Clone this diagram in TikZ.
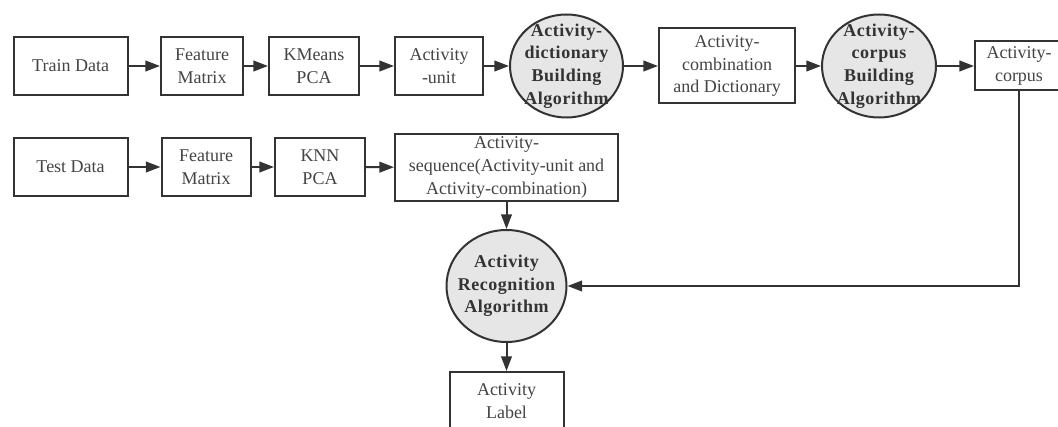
\documentclass[tikz,border=0pt]{standalone}
\usepackage{fontspec}
\setmainfont{Liberation Serif}
\newfontfamily\tnr{Liberation Serif}
\newfontfamily\tnrb[LetterSpace=3]{Liberation Serif Bold}
\usetikzlibrary{shapes.geometric,arrows.meta}
\definecolor{linec}{HTML}{333333}
\definecolor{textc}{HTML}{444444}
\definecolor{algofill}{HTML}{E6E6E6}
\def\pxu{0.75pt}
\tikzset{
  box/.style={draw=linec, line width=1.5pt, fill=white, text=textc, align=center,
    inner sep=0pt, font=\tnr\fontsize{13.5}{17}\selectfont},
  algo/.style={ellipse, draw=linec, fill=algofill, line width=1.5pt, inner sep=0pt},
  algotext/.style={align=center, inner sep=0pt, text=linec,
    font=\tnrb\fontsize{13.5}{17}\selectfont},
  arr/.style={draw=linec, line width=1.5pt, -{Triangle[length=11pt,width=8pt]}}
}
\begin{document}
\begin{tikzpicture}[x=0.75pt,y=-0.75pt]
\useasboundingbox (0,0) rectangle (1058,427);
\clip (0,0) rectangle (1058,427);
% row 1
\node[box, minimum width=114*\pxu, minimum height=58*\pxu] (train) at (70.6,66) {Train Data};
\node[box, minimum width=82*\pxu, minimum height=58*\pxu] (fm1) at (202,66) {Feature\\Matrix};
\node[box, minimum width=90*\pxu, minimum height=58*\pxu] (km) at (314,66) {KMeans\\PCA};
\node[box, minimum width=88*\pxu, minimum height=58*\pxu] (unit) at (439,66) {Activity\\-unit};
\node[algo, minimum width=113*\pxu, minimum height=103*\pxu,
  label={[algotext]center:Activity-\\dictionary\\Building\\Algorithm}] (c1) at (566.5,66) {};
\node[box, minimum width=136*\pxu, minimum height=75*\pxu] (comb) at (727,66) {Activity-\\combination\\and Dictionary};
\node[algo, minimum width=114*\pxu, minimum height=103*\pxu,
  label={[algotext]center:Activity-\\corpus\\Building\\Algorithm}] (c2) at (879,66) {};
\node[box, minimum width=88*\pxu, minimum height=49*\pxu] (corpus) at (1019,66) {Activity-\\corpus};
% row 2
\node[box, minimum width=114*\pxu, minimum height=58*\pxu] (test) at (70.6,167) {Test Data};
\node[box, minimum width=89*\pxu, minimum height=58*\pxu] (fm2) at (206,167) {Feature\\Matrix};
\node[box, minimum width=90*\pxu, minimum height=58*\pxu] (knn) at (320,167) {KNN\\PCA};
\node[box, minimum width=223*\pxu, minimum height=67*\pxu] (seq) at (506.5,167.5) {Activity-\\sequence(Activity-unit and\\Activity-combination)};
% recognition
\node[algo, minimum width=120*\pxu, minimum height=112*\pxu,
  label={[algotext]center:Activity\\Recognition\\Algorithm}] (rec) at (506.5,286) {};
\node[box, minimum width=114*\pxu, minimum height=58*\pxu] (label) at (506.5,401) {Activity\\Label};
% connectors
\draw[arr] (train) -- (fm1);
\draw[arr] (fm1) -- (km);
\draw[arr] (km) -- (unit);
\draw[arr] (unit) -- (c1);
\draw[arr] (c1) -- (comb);
\draw[arr] (comb) -- (c2);
\draw[arr] (c2) -- (corpus);
\draw[arr] (test) -- (fm2);
\draw[arr] (fm2) -- (knn);
\draw[arr] (knn) -- (seq);
\draw[arr] (seq) -- (rec);
\draw[arr] (rec) -- (label);
\draw[arr] (corpus.south) |- (rec.east);
\end{tikzpicture}
\end{document}
